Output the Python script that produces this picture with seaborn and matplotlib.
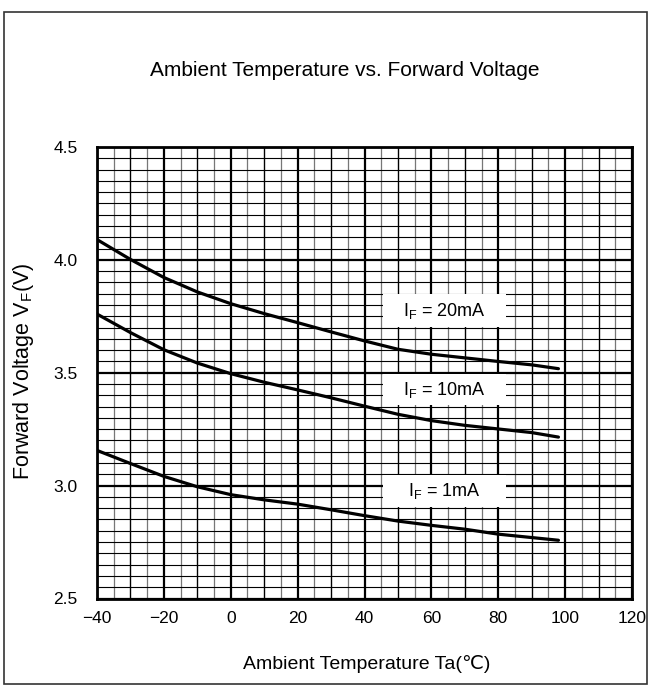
import numpy as np
import pandas as pd
import matplotlib
matplotlib.use("Agg")
import matplotlib.pyplot as plt
import matplotlib.patches as mpatches
import seaborn as sns

# ---- data ----
temps = [-40, -30, -20, -10, 0, 10, 20, 30, 40, 50, 60, 70, 80, 90, 98]
vf_20mA = [4.09, 4.002, 3.922, 3.858, 3.806, 3.762, 3.722, 3.681, 3.641, 3.604, 3.582, 3.566, 3.550, 3.535, 3.518]
vf_10mA = [3.76, 3.678, 3.602, 3.543, 3.496, 3.458, 3.424, 3.389, 3.352, 3.316, 3.288, 3.267, 3.251, 3.235, 3.215]
vf_1mA = [3.156, 3.098, 3.041, 2.995, 2.960, 2.937, 2.918, 2.893, 2.867, 2.843, 2.824, 2.807, 2.785, 2.770, 2.758]
series_names = ["20mA", "10mA", "1mA"]
x_ticks = [-40, -20, 0, 20, 40, 60, 80, 100, 120]
y_ticks = [2.5, 3.0, 3.5, 4.0, 4.5]

df = pd.DataFrame({
    "Ta": temps * 3,
    "VF": vf_20mA + vf_10mA + vf_1mA,
    "IF": sum([[n] * len(temps) for n in series_names], []),
})

sns.set_style("white")
plt.rcParams["font.family"] = ["Liberation Sans", "DejaVu Sans"]
plt.rcParams["mathtext.fontset"] = "custom"
plt.rcParams["mathtext.rm"] = "Liberation Sans"
for k in ["text.color", "axes.labelcolor", "xtick.color", "ytick.color"]:
    plt.rcParams[k] = "black"

fig = plt.figure(figsize=(6.51, 6.86), dpi=100)
ax = fig.add_axes([97 / 651, 1 - 598.5 / 686, 535 / 651, 451.5 / 686])

sns.lineplot(data=df, x="Ta", y="VF", hue="IF", palette=["black"] * 3,
             linewidth=2.3, legend=False, ax=ax, zorder=5)

ax.set_xlim(-40, 120)
ax.set_ylim(2.5, 4.5)
ax.set_xticks(x_ticks)
ax.set_yticks(y_ticks)
ax.set_yticklabels([f"{v:.1f}" for v in y_ticks])
ax.set_xticklabels([str(v).replace("-", "\u2212") for v in x_ticks])
ax.set_xticks(np.arange(-40, 121, 5), minor=True)
ax.set_yticks(np.arange(2.5, 4.501, 0.05), minor=True)

ax.grid(which="minor", axis="x", color="#777777", linewidth=0.9, zorder=0)
ax.grid(which="minor", axis="y", color="black", linewidth=0.8, zorder=0)
ax.grid(which="major", color="black", linewidth=1.6, zorder=1)
ax.vlines(np.arange(-30, 120, 20), 2.5, 4.5, color="black", linewidth=0.9, zorder=1)
ax.set_axisbelow(True)

ax.tick_params(which="both", length=0)
ax.tick_params(axis="y", pad=14, labelsize=12.5)
ax.tick_params(axis="x", pad=9, labelsize=12.5)
for s in ax.spines.values():
    s.set_linewidth(2.0)
    s.set_color("black")

ax.set_xlabel("Ambient Temperature Ta(\u2103)", fontsize=14)
ax.set_ylabel(r"Forward Voltage V$_\mathregular{F}$(V)", fontsize=15.5)
ax.xaxis.set_label_coords(0.505, -0.125)
ax.yaxis.set_label_coords(-0.114, 0.504)

fig.text(345 / 651, 1 - 71 / 686, "Ambient Temperature vs. Forward Voltage",
         ha="center", va="center", fontsize=15)

# label boxes
boxes = [(45.5, 3.704, 3.85, 3.774, "20mA"),
         (45.5, 3.358, 3.496, 3.425, "10mA"),
         (45.5, 2.907, 3.049, 2.978, "1mA")]
for x0, y0, y1, yt, lab in boxes:
    ax.add_patch(mpatches.Rectangle((x0, y0), 36.8, y1 - y0, facecolor="white",
                                    edgecolor="none", zorder=3))
    ax.text(x0 + 18.4, yt, r"I$_\mathregular{F}$ = " + lab, ha="center", va="center",
            fontsize=13, zorder=4)

fig.add_artist(mpatches.Rectangle((4 / 651, 2 / 686), 643 / 651, 672 / 686,
                                  transform=fig.transFigure, fill=False,
                                  edgecolor="#333333", linewidth=1.2))

fig.savefig("out.png", dpi=100)
